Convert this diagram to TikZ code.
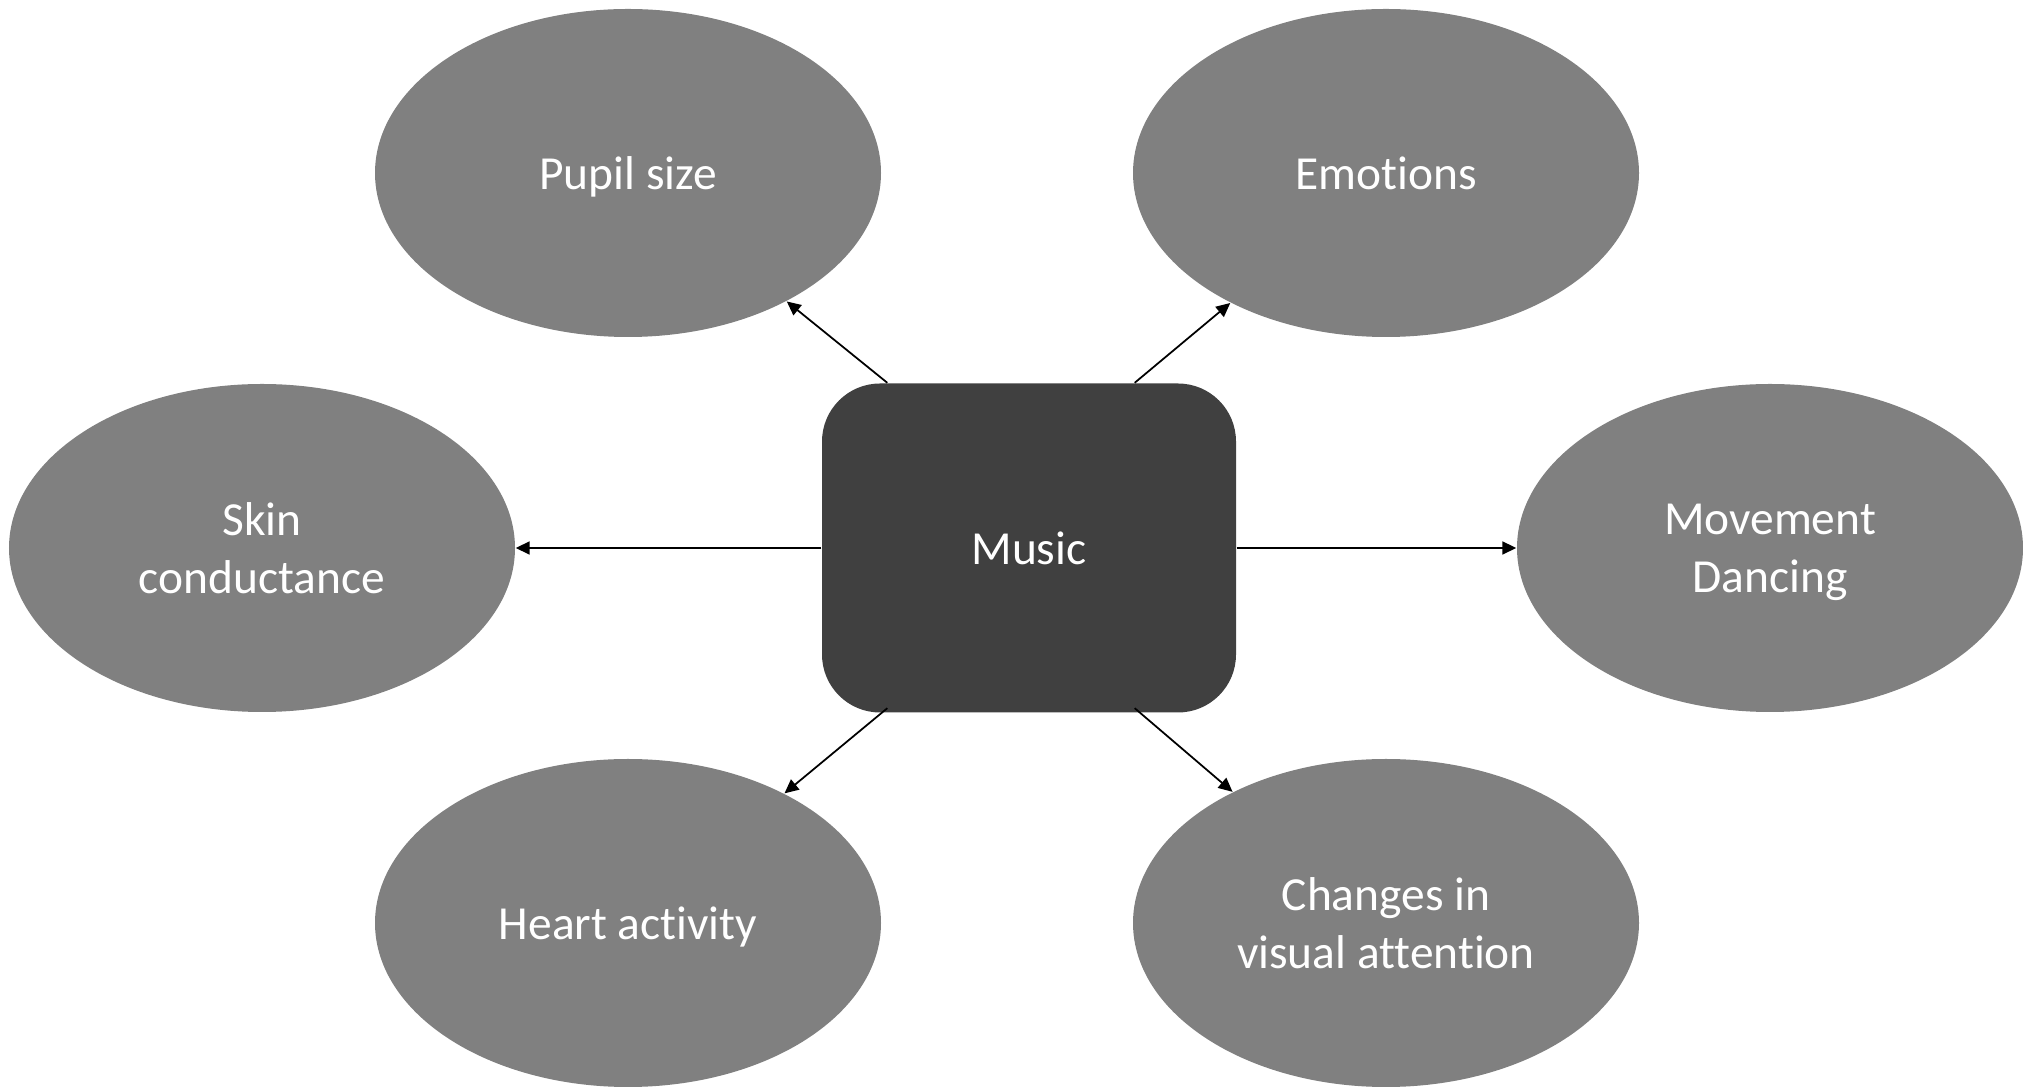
\documentclass[tikz,border=0pt]{standalone}
\usepackage{fontspec}
\setmainfont{Carlito}[Ligatures={NoCommon}]
\usetikzlibrary{arrows.meta,shapes.geometric}
\definecolor{ellgray}{HTML}{808080}
\definecolor{boxgray}{HTML}{404040}
\begin{document}
\begin{tikzpicture}[line join=round, >={Triangle[length=0.14cm,width=0.13cm]},
    font=\fontsize{13.5}{16.5}\selectfont,
    effect/.style={ellipse, fill=ellgray, text=white, minimum width=5.06cm, minimum height=3.28cm, inner sep=0pt, align=center, text depth=0pt},
    cause/.style={rectangle, rounded corners=0.58cm, fill=boxgray, text=white, minimum width=4.14cm, minimum height=3.29cm, inner sep=0pt},
    link/.style={->, line width=0.5pt}]
    \useasboundingbox (0,0) rectangle (20.23,10.91);
    \node[cause] (music) at (10.29,5.43) {Music};
    \node[effect] (pupil) at (6.28,9.18) {Pupil size};
    \node[effect] (emotions) at (13.86,9.18) {Emotions};
    \node[effect] (skin) at (2.62,5.43) {Skin\\conductance};
    \node[effect] (movement) at (17.70,5.43) {Movement\\Dancing};
    \node[effect] (heart) at (6.28,1.68) {Heart activity};
    \node[effect] (changes) at (13.86,1.68) {Changes in\\visual attention};
    % arrows out of the box
    \draw[link] ([xshift=0.66cm]music.north west) -- (pupil);
    \draw[link] ([xshift=-1.02cm]music.north east) -- (emotions);
    \draw[link] (music.west) -- (skin);
    \draw[link] (music.east) -- (movement);
    \draw[link] ([xshift=0.66cm,yshift=0.05cm]music.south west) -- (heart);
    \draw[link] ([xshift=-1.02cm,yshift=0.05cm]music.south east) -- (changes);
\end{tikzpicture}
\end{document}
